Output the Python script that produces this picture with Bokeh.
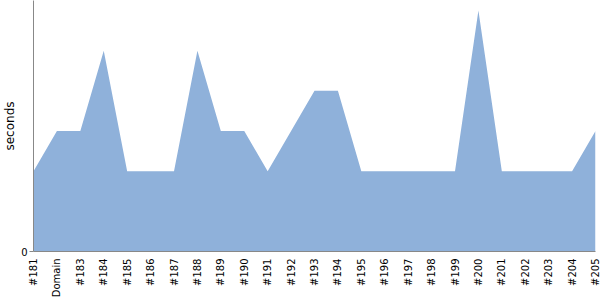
from bokeh.plotting import figure
from bokeh.models import Range1d, FixedTicker
from bokeh.embed import file_html
from bokeh.resources import INLINE
import math

categories = ["#181", "Domain", "#183", "#184", "#185", "#186", "#187", "#188", "#189", "#190",
              "#191", "#192", "#193", "#194", "#195", "#196", "#197", "#198", "#199", "#200",
              "#201", "#202", "#203", "#204", "#205"]
seconds = [2, 3, 3, 5, 2, 2, 2, 5, 3, 3, 2, 3, 4, 4, 2, 2, 2, 2, 2, 6, 2, 2, 2, 2, 3]

xs = list(range(len(categories)))

p = figure(width=600, height=300, output_backend="svg", toolbar_location=None,
           x_range=Range1d(0, len(categories) - 1), y_range=Range1d(0, 6.25),
           min_border_left=0, min_border_right=5, min_border_top=0, min_border_bottom=0)
p.outline_line_color = None
p.grid.grid_line_color = None

p.varea(x=xs, y1=[0] * len(xs), y2=seconds, fill_color="#8fb1da", fill_alpha=1.0)

p.xaxis.ticker = FixedTicker(ticks=xs)
p.xaxis.major_label_overrides = {i: c for i, c in enumerate(categories)}
p.xaxis.major_label_orientation = math.pi / 2
p.xaxis.major_tick_line_color = None
p.xaxis.minor_tick_line_color = None
p.xaxis.axis_line_color = "#888888"
p.xaxis.major_label_text_font = "DejaVu Sans"
p.xaxis.major_label_text_font_size = "10px"
p.xaxis.major_label_text_color = "#000000"
p.xaxis.major_label_standoff = 1

p.yaxis.ticker = FixedTicker(ticks=[0])
p.yaxis.axis_label = "seconds"
p.yaxis.axis_label_text_font = "DejaVu Sans"
p.yaxis.axis_label_text_font_style = "normal"
p.yaxis.axis_label_text_font_size = "12px"
p.yaxis.axis_label_text_color = "#000000"
p.yaxis.axis_label_standoff = 1
p.yaxis.axis_line_color = "#888888"
p.yaxis.major_tick_line_color = "#888888"
p.yaxis.major_tick_out = 4
p.yaxis.major_tick_in = 0
p.yaxis.minor_tick_line_color = None
p.yaxis.major_label_text_font = "DejaVu Sans"
p.yaxis.major_label_text_font_size = "10px"
p.yaxis.major_label_text_color = "#000000"
p.yaxis.major_label_standoff = 2

open("out.html", "w").write(file_html(p, INLINE))
